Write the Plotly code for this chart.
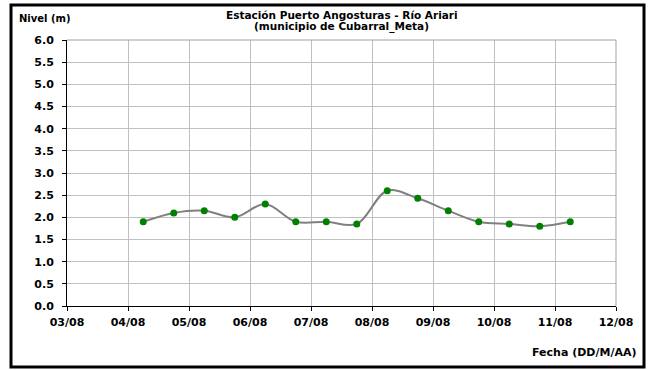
import plotly.graph_objects as go

# Data
fechas = ["2008-08-04 06:00", "2008-08-04 18:00", "2008-08-05 06:00", "2008-08-05 18:00",
          "2008-08-06 06:00", "2008-08-06 18:00", "2008-08-07 06:00", "2008-08-07 18:00",
          "2008-08-08 06:00", "2008-08-08 18:00", "2008-08-09 06:00", "2008-08-09 18:00",
          "2008-08-10 06:00", "2008-08-10 18:00", "2008-08-11 06:00"]
nivel = [1.90, 2.10, 2.15, 2.00, 2.30, 1.90, 1.90, 1.85, 2.60, 2.43, 2.15, 1.90, 1.85, 1.80, 1.90]

x_tick_vals = ["2008-08-03", "2008-08-04", "2008-08-05", "2008-08-06", "2008-08-07",
               "2008-08-08", "2008-08-09", "2008-08-10", "2008-08-11", "2008-08-12"]
x_tick_text = ["03/08", "04/08", "05/08", "06/08", "07/08", "08/08", "09/08", "10/08", "11/08", "12/08"]
y_tick_vals = [0.0, 0.5, 1.0, 1.5, 2.0, 2.5, 3.0, 3.5, 4.0, 4.5, 5.0, 5.5, 6.0]

titulo1 = "Estación Puerto Angosturas - Río Ariari"
titulo2 = "(municipio de Cubarral_Meta)"
y_label = "Nivel (m)"
x_label = "Fecha (DD/M/AA)"

FONT = "DejaVu Sans, sans-serif"

fig = go.Figure()
fig.add_trace(go.Scatter(
    x=fechas, y=nivel, mode="lines+markers",
    line=dict(color="#808080", width=2, shape="spline", smoothing=1),
    marker=dict(color="#008000", size=7),
    showlegend=False, hoverinfo="skip",
))

tickfont = dict(family=FONT, size=11, color="black", weight="bold")

fig.update_layout(
    width=649, height=370, autosize=False,
    margin=dict(l=67, r=33, t=40, b=64),
    paper_bgcolor="white", plot_bgcolor="white",
    font=dict(family=FONT, size=11, color="black"),
    xaxis=dict(
        type="date", range=[x_tick_vals[0], x_tick_vals[-1]],
        tickvals=x_tick_vals, ticktext=x_tick_text,
        showgrid=True, gridcolor="#c0c0c0", gridwidth=1,
        showline=True, linecolor="black", linewidth=1,
        ticks="outside", ticklen=4, tickcolor="black",
        tickfont=tickfont, ticklabelstandoff=2,
        zeroline=False,
    ),
    yaxis=dict(
        range=[0, 6], tickvals=y_tick_vals, tickformat=".1f",
        showgrid=True, gridcolor="#c0c0c0", gridwidth=1,
        showline=True, linecolor="black", linewidth=1,
        ticks="outside", ticklen=4, tickcolor="black",
        tickfont=tickfont, ticklabelstandoff=6,
        zeroline=False,
    ),
)

# plot-area top/right border in gray
fig.add_shape(type="line", xref="paper", yref="paper", x0=0, x1=1, y0=1, y1=1,
              line=dict(color="#a0a0a0", width=1))
fig.add_shape(type="line", xref="paper", yref="paper", x0=1, x1=1, y0=0, y1=1,
              line=dict(color="#a0a0a0", width=1))
# outer frame
fig.add_shape(type="rect", xref="paper", yref="paper",
              x0=(11 - 67) / 549, x1=(644 - 67) / 549,
              y0=(306 - 367) / 266, y1=(306 - 5) / 266,
              line=dict(color="black", width=3))

title_font = dict(family=FONT, size=10.5, color="black", weight="bold")
fig.add_annotation(text=titulo1, xref="paper", yref="paper", x=0.5, y=(306 - 15) / 266,
                   showarrow=False, font=title_font, xanchor="center", yanchor="middle")
fig.add_annotation(text=titulo2, xref="paper", yref="paper", x=0.5, y=(306 - 27) / 266,
                   showarrow=False, font=title_font, xanchor="center", yanchor="middle")
fig.add_annotation(text=y_label, xref="paper", yref="paper", x=(17 - 67) / 549, y=(306 - 18) / 266,
                   showarrow=False, font=dict(family=FONT, size=10, color="black", weight="bold"),
                   xanchor="left", yanchor="middle")
fig.add_annotation(text=x_label, xref="paper", yref="paper", x=(638 - 67) / 549, y=(306 - 352) / 266,
                   showarrow=False, font=dict(family=FONT, size=11, color="black", weight="bold"),
                   xanchor="right", yanchor="middle")

fig.write_html("out.html", config={"displayModeBar": False, "staticPlot": True},
               post_script="document.body.style.margin='0';document.body.style.overflow='hidden';")
